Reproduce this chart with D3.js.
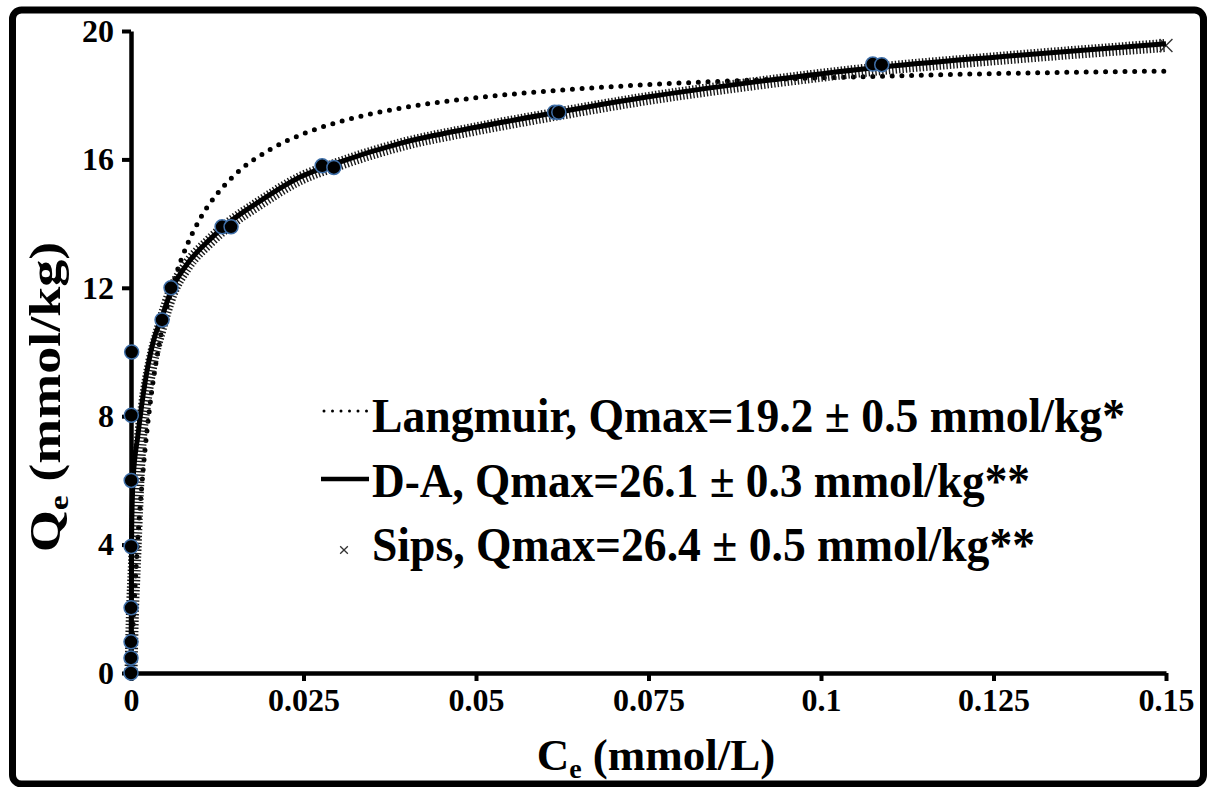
<!DOCTYPE html>
<html lang="en">
<head>
    <meta charset="utf-8">
    <title>Isotherm fits</title>
    <script src="https://cdnjs.cloudflare.com/ajax/libs/d3/7.8.5/d3.min.js"></script>
    <style>
        html, body { margin: 0; padding: 0; background: #fff; }
        svg { display: block; }
        .tick text { font-family: "Liberation Serif", "Times New Roman", serif; font-weight: bold; }
    </style>
</head>
<body>
    <svg id="chart"></svg>

    <script>
        // measured points (Ce in mmol/L, Qe in mmol/kg)
        const measuredCe = [0, 0, 0, 0.00001, 0.00002, 0.00003, 0.00005, 0.0001,
            0.0045, 0.0058, 0.0132, 0.0145, 0.0277, 0.0294, 0.0614, 0.062, 0.1075, 0.1088];
        const measuredQe = [0, 0.47, 0.97, 2.03, 3.94, 6.0, 8.03, 10.0,
            11.0, 12.0, 13.9, 13.9, 15.8, 15.75, 17.47, 17.47, 18.97, 18.95];

        // Langmuir fit
        const langCe = [0, 0.0002, 0.0005, 0.001, 0.0015, 0.002, 0.003, 0.004, 0.005, 0.0065,
            0.008, 0.01, 0.0125, 0.015, 0.02, 0.025, 0.03, 0.04, 0.05, 0.06, 0.075, 0.09, 0.1,
            0.12, 0.135, 0.15];
        const langQe = [0, 1.02, 2.36, 4.2, 5.68, 6.89, 8.77, 10.14, 11.2, 12.39,
            13.27, 14.15, 14.93, 15.51, 16.29, 16.8, 17.16, 17.63, 17.92, 18.12, 18.33, 18.47, 18.54,
            18.65, 18.71, 18.75];

        // D-A fit, solid curve
        const daCe = [0, 0.0001, 0.0003, 0.001, 0.002, 0.0032, 0.0045, 0.0058, 0.008, 0.0114,
            0.014, 0.0187, 0.0245, 0.03, 0.039, 0.05, 0.0614, 0.075, 0.09, 0.1075, 0.126, 0.15];
        const daQe = [0, 4.5, 6.0, 7.4, 9.0, 10.3, 11.1, 11.9, 12.7, 13.5,
            14.0, 14.7, 15.45, 15.9, 16.5, 17.0, 17.45, 17.95, 18.4, 18.85, 19.2, 19.6];

        // Sips fit, x markers
        const sipsCe = [0, 0.0002, 0.0005, 0.0008, 0.0012, 0.002, 0.003, 0.0042, 0.0058, 0.008,
            0.0114, 0.014, 0.0187, 0.0245, 0.03, 0.039, 0.05, 0.0614, 0.075, 0.09, 0.1075, 0.126, 0.15];
        const sipsQe = [0, 1.8, 3.4, 5.0, 6.8, 8.4, 9.7, 10.7, 11.8, 12.65,
            13.45, 13.95, 14.65, 15.4, 15.85, 16.45, 16.95, 17.4, 17.9, 18.35, 18.8, 19.15, 19.55];

        const xTicks = [0, 0.025, 0.05, 0.075, 0.1, 0.125, 0.15];
        const yTicks = [0, 4, 8, 12, 16, 20];

        const legendLabels = [
            'Langmuir, Qmax=19.2 \u00b1 0.5 mmol/kg*',
            'D-A, Qmax=26.1 \u00b1 0.3 mmol/kg**',
            'Sips, Qmax=26.4 \u00b1 0.5 mmol/kg**'
        ];

        const width = 1210;
        const height = 787;
        const serif = '"Liberation Serif", "Times New Roman", serif';

        const svg = d3.select('#chart')
            .attr('width', width)
            .attr('height', height);

        // outer frame
        svg.append('rect')
            .attr('x', 12.5)
            .attr('y', 10)
            .attr('width', 1191)
            .attr('height', 774)
            .attr('rx', 9)
            .attr('fill', '#fff')
            .attr('stroke', '#000')
            .attr('stroke-width', 7);

        const x = d3.scaleLinear().domain([0, 0.15]).range([131, 1166]);
        const y = d3.scaleLinear().domain([0, 20]).range([673, 31]);

        const zip = (xs, ys) => xs.map((v, i) => [v, ys[i]]);
        const line = d3.line()
            .x(d => x(d[0]))
            .y(d => y(d[1]))
            .curve(d3.curveMonotoneX);

        // axes
        const xAxis = svg.append('g')
            .attr('transform', `translate(0,${y(0)})`)
            .call(d3.axisBottom(x).tickValues(xTicks).tickFormat(d => String(d))
                .tickSizeInner(8).tickSizeOuter(0).tickPadding(7));
        xAxis.select('.domain').attr('stroke-width', 4.5);
        xAxis.selectAll('.tick line').attr('stroke-width', 4);
        xAxis.selectAll('.tick text').attr('font-size', 32).attr('fill', '#000');

        const yAxis = svg.append('g')
            .attr('transform', `translate(${x(0)},0)`)
            .call(d3.axisLeft(y).tickValues(yTicks).tickFormat(d => String(d))
                .tickSizeInner(9).tickSizeOuter(0).tickPadding(8));
        yAxis.select('.domain').attr('stroke-width', 4.5);
        yAxis.selectAll('.tick line').attr('stroke-width', 4);
        yAxis.selectAll('.tick text').attr('font-size', 32).attr('fill', '#000');

        // Langmuir: round dots
        svg.append('path')
            .datum(zip(langCe, langQe))
            .attr('d', line)
            .attr('fill', 'none')
            .attr('stroke', '#000')
            .attr('stroke-width', 5)
            .attr('stroke-linecap', 'round')
            .attr('stroke-dasharray', '0 9.7');

        // Sips: dense x markers -> hatched band
        svg.append('path')
            .datum(zip(sipsCe, sipsQe))
            .attr('d', line)
            .attr('fill', 'none')
            .attr('stroke', '#1a1a1a')
            .attr('stroke-width', 13)
            .attr('stroke-dasharray', '1.4 2');

        const lastSips = [sipsCe[sipsCe.length - 1], sipsQe[sipsQe.length - 1]];
        svg.append('path')
            .attr('d', d3.symbol(d3.symbolX, 110)())
            .attr('transform', `translate(${x(lastSips[0])},${y(lastSips[1])})`)
            .attr('fill', 'none')
            .attr('stroke', '#333')
            .attr('stroke-width', 1.4);

        // D-A: solid
        svg.append('path')
            .datum(zip(daCe, daQe))
            .attr('d', line)
            .attr('fill', 'none')
            .attr('stroke', '#000')
            .attr('stroke-width', 5);

        // measured points
        svg.append('g')
            .selectAll('circle')
            .data(zip(measuredCe, measuredQe))
            .join('circle')
            .attr('cx', d => x(d[0]))
            .attr('cy', d => y(d[1]))
            .attr('r', 7)
            .attr('fill', '#000')
            .attr('stroke', '#3f6fa8')
            .attr('stroke-width', 1.5);

        // legend
        const legend = svg.append('g').attr('font-family', serif).attr('font-weight', 'bold');
        const baselines = [432, 497, 561];
        const labelWidths = [753, 658, 663];
        legend.selectAll('text.lab')
            .data(legendLabels)
            .join('text')
            .attr('class', 'lab')
            .attr('x', 372)
            .attr('y', (d, i) => baselines[i])
            .attr('font-size', 48)
            .attr('textLength', (d, i) => labelWidths[i])
            .attr('lengthAdjust', 'spacingAndGlyphs')
            .text(d => d);

        legend.append('line')
            .attr('x1', 324).attr('x2', 368)
            .attr('y1', 411).attr('y2', 411)
            .attr('stroke', '#000')
            .attr('stroke-width', 3)
            .attr('stroke-linecap', 'round')
            .attr('stroke-dasharray', '0 8.5');

        legend.append('line')
            .attr('x1', 321).attr('x2', 369)
            .attr('y1', 479).attr('y2', 479)
            .attr('stroke', '#000')
            .attr('stroke-width', 4.5);

        legend.append('path')
            .attr('d', d3.symbol(d3.symbolX, 40)())
            .attr('transform', 'translate(344,550)')
            .attr('fill', 'none')
            .attr('stroke', '#333')
            .attr('stroke-width', 1.3);

        // axis titles
        const xTitle = svg.append('text')
            .attr('x', 656)
            .attr('y', 770)
            .attr('text-anchor', 'middle')
            .attr('font-family', serif)
            .attr('font-weight', 'bold')
            .attr('font-size', 45);
        xTitle.append('tspan').text('C');
        xTitle.append('tspan').attr('font-size', 28).attr('dy', 8).text('e');
        xTitle.append('tspan').attr('dy', -8).text(' (mmol/L)');

        const yTitle = svg.append('text')
            .attr('transform', 'translate(60,397) rotate(-90) scale(1.2,1)')
            .attr('text-anchor', 'middle')
            .attr('font-family', serif)
            .attr('font-weight', 'bold')
            .attr('font-size', 45);
        yTitle.append('tspan').text('Q');
        yTitle.append('tspan').attr('font-size', 28).attr('dy', 8).text('e');
        yTitle.append('tspan').attr('dy', -8).text(' (mmol/kg)');
    </script>
</body>
</html>
